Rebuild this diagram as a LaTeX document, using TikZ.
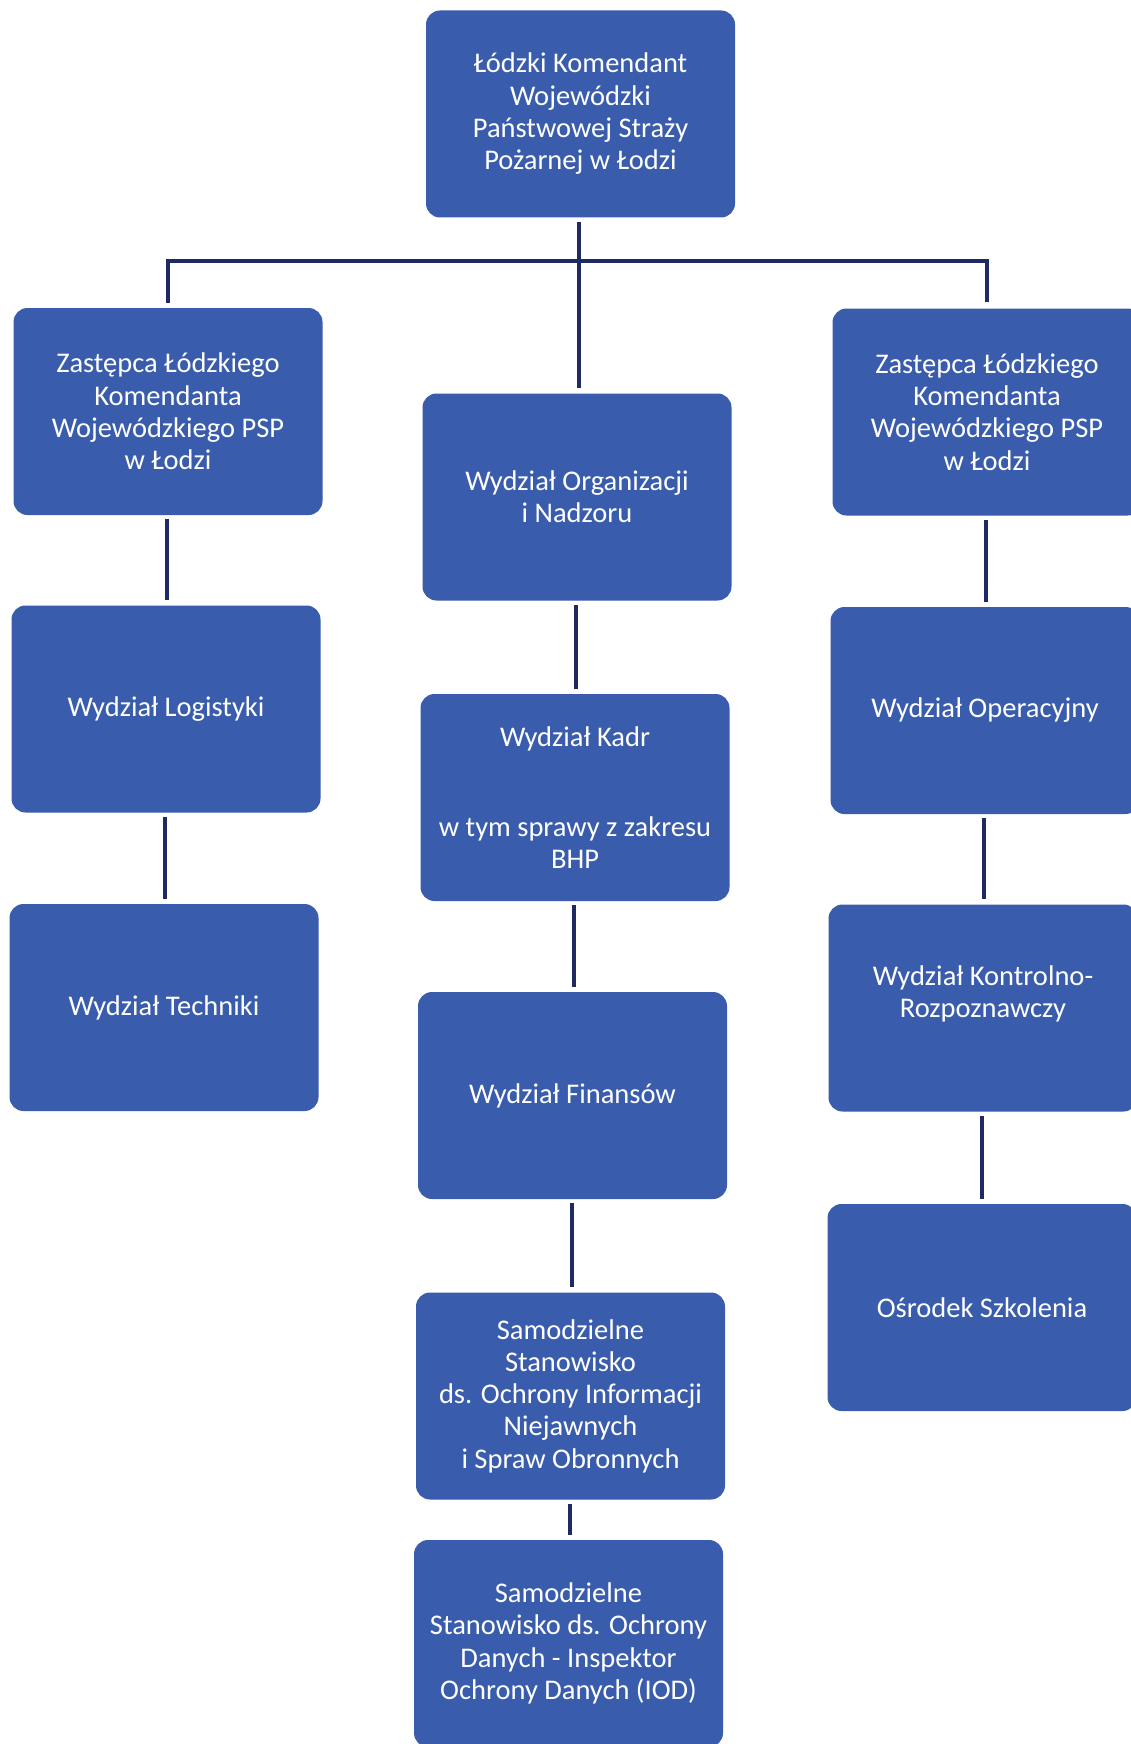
\documentclass[tikz,border=0pt]{standalone}
\usepackage{fontspec}
\setmainfont{Carlito}
\definecolor{boxblue}{HTML}{3A5CAC}
\definecolor{linenavy}{HTML}{1F2A62}
\tikzset{
  orgbox/.style={rectangle, rounded corners=14pt, fill=boxblue, draw=none,
    minimum width=309pt, minimum height=207pt, inner sep=0pt,
    text=white, align=center,
    font=\fontsize{28.5}{32.3}\selectfont},
  conn/.style={draw=linenavy, line width=4pt, shorten <=4pt, shorten >=5pt},
  barconn/.style={draw=linenavy, line width=4.5pt, shorten <=5pt, shorten >=6pt}
}
\begin{document}
\begin{tikzpicture}[x=1pt,y=-1pt]
\useasboundingbox (0,0) rectangle (1131,1744);
\clip (0,0) rectangle (1131,1744);
\fill[white] (0,0) rectangle (1131,1744);

\node[orgbox] (top)   at (580.5,114)  {Łódzki Komendant\\Wojewódzki\\Państwowej Straży\\Pożarnej w Łodzi};
\node[orgbox] (zl)    at (168,411.5)  {Zastępca Łódzkiego\\Komendanta\\Wojewódzkiego PSP\\w Łodzi};
\node[orgbox] (org)   at (577,497)    {Wydział Organizacji\\i Nadzoru};
\node[orgbox] (zr)    at (987,412)    {Zastępca Łódzkiego\\Komendanta\\Wojewódzkiego PSP\\w Łodzi};
\node[orgbox] (log)   at (166,709)    {Wydział Logistyki};
\node[orgbox] (kadr)  at (575,797.5)  {Wydział Kadr\\[58pt]w tym sprawy z zakresu\\BHP};
\node[orgbox] (op)    at (985,710.5)  {Wydział Operacyjny};
\node[orgbox] (tech)  at (164,1007.5) {Wydział Techniki};
\node[orgbox] (fin)   at (572.5,1095.5) {Wydział Finansów};
\node[orgbox] (kontr) at (983,1008)   {Wydział Kontrolno-\\Rozpoznawczy\\\mbox{}};
\node[orgbox] (osr)   at (982,1307.5) {Ośrodek Szkolenia};
\node[orgbox] (sam1)  at (570.5,1396) {Samodzielne\\Stanowisko\\ds. Ochrony Informacji\\Niejawnych\\i Spraw Obronnych};
\node[orgbox] (sam2)  at (568.5,1643.5) {Samodzielne\\Stanowisko ds. Ochrony\\Danych - Inspektor\\Ochrony Danych (IOD)};

\coordinate (bar) at (579,261);

% connectors (vertical, dropped from the upper box)
\draw[conn] ([xshift=-1.5pt]top.south) -- ([xshift=-1.5pt]top.south |- org.north);
\draw[barconn] (zl.north) |- (bar) -| (zr.north);
\draw[conn] ([xshift=-1pt]zl.south) -- ([xshift=-1pt]zl.south |- log.north);
\draw[conn] ([xshift=-1pt]log.south) -- ([xshift=-1pt]log.south |- tech.north);
\draw[conn] ([xshift=-1pt]org.south) -- ([xshift=-1pt]org.south |- kadr.north);
\draw[conn] ([xshift=-1pt]kadr.south) -- ([xshift=-1pt]kadr.south |- fin.north);
\draw[conn] ([xshift=-1pt]fin.south) -- ([xshift=-1pt]fin.south |- sam1.north);
\draw[conn] ([xshift=-1pt]sam1.south) -- ([xshift=-1pt]sam1.south |- sam2.north);
\draw[conn] ([xshift=-1pt]zr.south) -- ([xshift=-1pt]zr.south |- op.north);
\draw[conn] ([xshift=-1pt]op.south) -- ([xshift=-1pt]op.south |- kontr.north);
\draw[conn] ([xshift=-1pt]kontr.south) -- ([xshift=-1pt]kontr.south |- osr.north);
\end{tikzpicture}
\end{document}
